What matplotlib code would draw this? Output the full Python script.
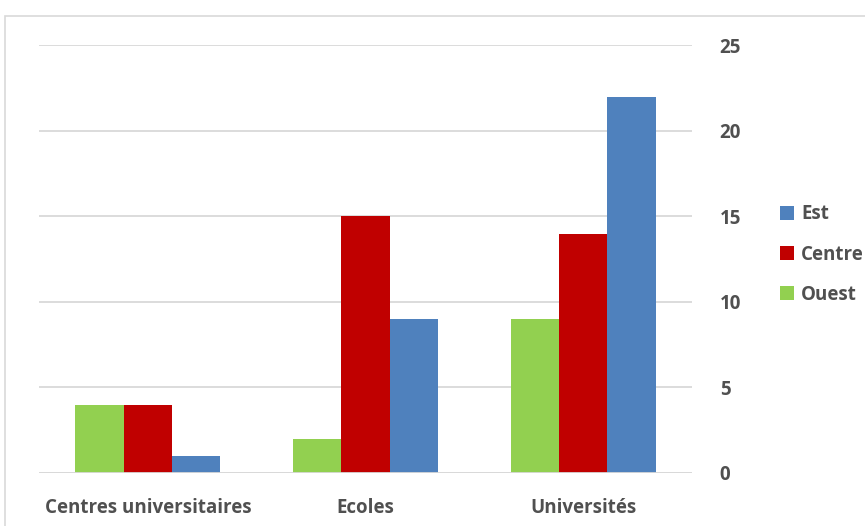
import matplotlib.pyplot as plt
import numpy as np
from matplotlib.patches import Rectangle

categories = ['Centres universitaires', 'Ecoles', 'Universités']
ouest = [4, 2, 9]
centre = [4, 15, 14]
est = [1, 9, 22]
yticks = [0, 5, 10, 15, 20, 25]

plt.rcParams['font.family'] = ['Open Sans', 'DejaVu Sans']
txt_color = '#505050'

fig = plt.figure(figsize=(8.65, 5.26), dpi=100)
ax = fig.add_axes([0.0451, 0.1008, 0.7549, 0.8127])

x = np.arange(len(categories))
w = 0.222
b1 = ax.bar(x - w, ouest, w, color='#92D050', label='Ouest', zorder=3)
b2 = ax.bar(x, centre, w, color='#C00000', label='Centre', zorder=3)
b3 = ax.bar(x + w, est, w, color='#4F81BD', label='Est', zorder=3)

ax.set_xlim(-0.5, 2.5)
ax.set_ylim(0, 25)
ax.set_yticks(yticks)
ax.yaxis.tick_right()
ax.grid(axis='y', color='#D9D9D9', linewidth=1.3, zorder=0)
for s in ax.spines.values():
    s.set_visible(False)
ax.axhline(0, color='#D9D9D9', linewidth=1.3, zorder=4)
ax.tick_params(axis='both', length=0, labelsize=13.5, labelcolor=txt_color)
ax.tick_params(axis='y', pad=20)
ax.tick_params(axis='x', pad=18)
ax.set_xticks(x)
ax.set_xticklabels(categories)
for lab in ax.get_xticklabels() + ax.get_yticklabels():
    lab.set_fontweight('bold')

leg = fig.legend(handles=[b3, b2, b1], labels=['Est', 'Centre', 'Ouest'],
                 loc='center left', bbox_to_anchor=(0.9015, 0.516),
                 frameon=False, fontsize=13.5, handlelength=0.75, handleheight=0.75,
                 handletextpad=0.4, labelspacing=1.08, borderaxespad=0, borderpad=0)
for t in leg.get_texts():
    t.set_color(txt_color)
    t.set_fontweight('bold')

fig.patches.append(Rectangle((5 / 865, -0.1), 1.2, 1 - 16 / 526 + 0.1,
                             transform=fig.transFigure, fill=False,
                             edgecolor='#D9D9D9', linewidth=1.2))

fig.savefig('out.png', dpi=100)
